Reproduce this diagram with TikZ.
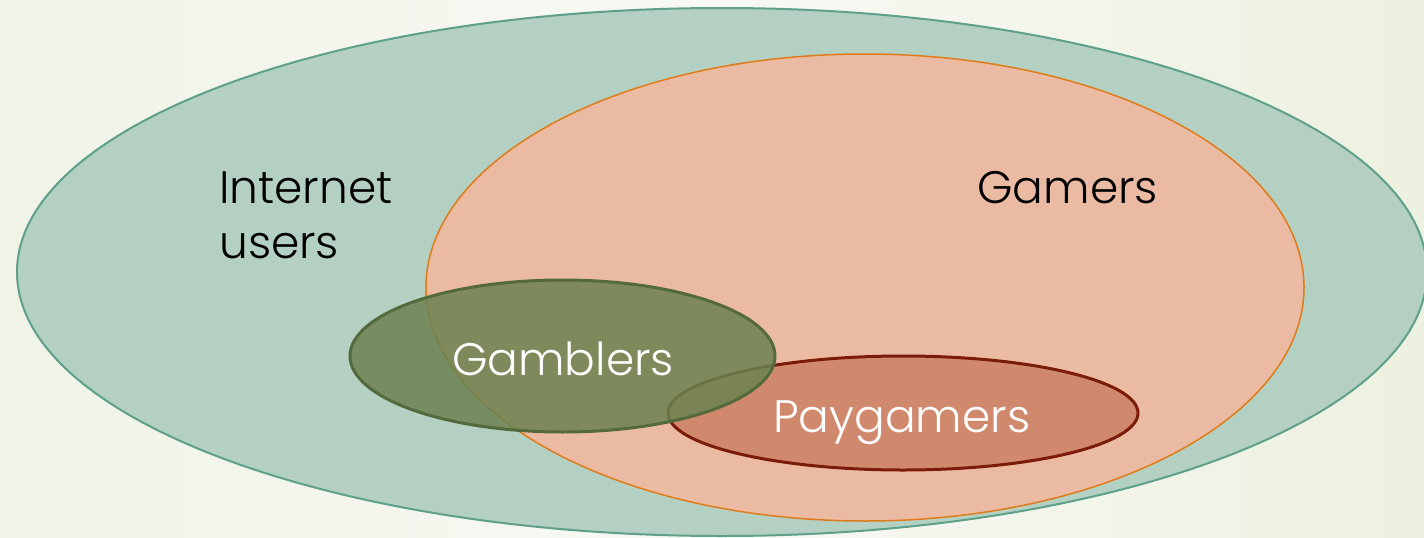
\documentclass[tikz,border=0pt]{standalone}
\usepackage{fontspec}
\setmainfont{Poppins}[UprightFont=* Light]
\usetikzlibrary{shapes.geometric}
\definecolor{bgL}{HTML}{F0F3E6}
\definecolor{bgM}{HTML}{F8F9F5}
\definecolor{bgR}{HTML}{EDF1DF}
\definecolor{netF}{HTML}{B3D0C3}
\definecolor{netD}{HTML}{5FA08A}
\definecolor{gamF}{HTML}{EBBAA3}
\definecolor{gamD}{HTML}{E07B1A}
\definecolor{gblF}{HTML}{6B8250}
\definecolor{gblD}{HTML}{546A3C}
\definecolor{payF}{HTML}{D1896E}
\definecolor{payD}{HTML}{7A1C08}
\tikzset{
  setshape/.style={ellipse, inner sep=0pt, outer sep=0pt},
  lbl/.style={font=\fontsize{45.5}{50}\selectfont, inner sep=0pt, anchor=base west},
}
\begin{document}
\begin{tikzpicture}[x=1pt,y=-1pt]
\useasboundingbox (0,0) rectangle (1424,538);
\shade[left color=bgL, right color=bgR, middle color=bgM] (0,0) rectangle (1424,538);
\node[setshape, fill=netF, draw=netD, line width=2pt, minimum width=1410pt, minimum height=528pt] (internet) at (722,272) {};
\node[setshape, fill=gamF, draw=gamD, line width=1.5pt, minimum width=878pt, minimum height=467pt] (gamers) at (865,287.5) {};
\node[setshape, fill=payF, draw=payD, line width=3pt, minimum width=470pt, minimum height=114pt] (paygamers) at (903,413) {};
\node[setshape, fill=gblF, fill opacity=0.85, draw=gblD, draw opacity=1, line width=3pt, minimum width=425pt, minimum height=152pt] (gamblers) at (562.5,356) {};
\node[lbl, text=black] (t1) at (219,203) {Internet};
\node[lbl, text=black] (t2) at (219,258) {users};
\node[lbl, text=black] (t3) at (977,203) {Gamers};
\node[lbl, text=white] (t4) at (452,375) {Gamblers};
\node[lbl, text=white] (t5) at (773,432) {Paygamers};
\end{tikzpicture}
\end{document}
